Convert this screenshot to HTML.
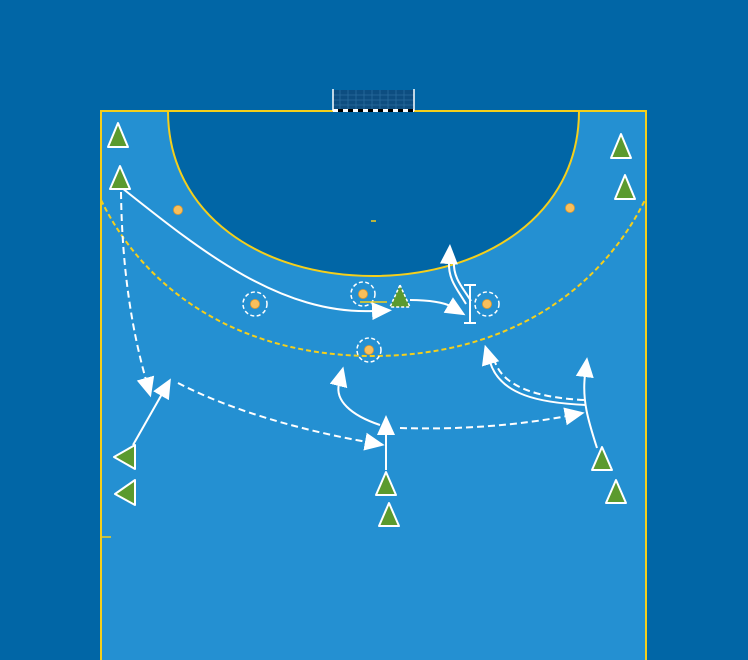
<!DOCTYPE html>
<html><head><meta charset="utf-8"><style>html,body{margin:0;padding:0;background:#0166a6;}svg{display:block}</style></head>
<body>
<svg width="748" height="660" viewBox="0 0 748 660" xmlns="http://www.w3.org/2000/svg">
<defs>
<marker id="m" viewBox="0 0 20 20" refX="2" refY="10" markerWidth="20" markerHeight="20" markerUnits="userSpaceOnUse" orient="auto">
<path d="M0,1 L20,10 L0,19 Z" fill="#fff"/>
</marker>
</defs>
<rect width="748" height="660" fill="#0166a6"/>
<rect x="101" y="111" width="545" height="560" fill="#2490d2" stroke="#f5cf1b" stroke-width="2"/>
<path d="M168,111 C168,215 262,276 373,276 C484,276 579,215 579,111 Z" fill="#0166a6" stroke="#f5cf1b" stroke-width="2"/>
<path d="M101,200 C150,300 250,356 373,356 C496,356 596,300 646,198" fill="none" stroke="#f5cf1b" stroke-width="2" stroke-dasharray="5,3"/>
<line x1="371" y1="221" x2="376" y2="221" stroke="#f5cf1b" stroke-width="1.5"/>
<line x1="101" y1="537" x2="111" y2="537" stroke="#f5cf1b" stroke-width="1.5"/>
<rect x="333" y="90" width="81" height="20" fill="#0d4d80"/>
<g stroke="#2a6c9e" stroke-width="0.8">
<line x1="333" y1="95" x2="414" y2="95"/><line x1="333" y1="100" x2="414" y2="100"/><line x1="333" y1="105" x2="414" y2="105"/>
<line x1="340" y1="90" x2="340" y2="110"/><line x1="348" y1="90" x2="348" y2="110"/><line x1="356" y1="90" x2="356" y2="110"/><line x1="364" y1="90" x2="364" y2="110"/><line x1="372" y1="90" x2="372" y2="110"/><line x1="380" y1="90" x2="380" y2="110"/><line x1="388" y1="90" x2="388" y2="110"/><line x1="396" y1="90" x2="396" y2="110"/><line x1="404" y1="90" x2="404" y2="110"/>
</g>
<line x1="333" y1="89" x2="333" y2="111" stroke="#fff" stroke-width="1.5"/>
<line x1="414" y1="89" x2="414" y2="111" stroke="#fff" stroke-width="1.5"/>
<line x1="333" y1="110.5" x2="414" y2="110.5" stroke="#000" stroke-width="3"/>
<line x1="333" y1="110.5" x2="414" y2="110.5" stroke="#fff" stroke-width="3" stroke-dasharray="5,5"/>
<g fill="#f9bf5c" stroke="#e89a2a" stroke-width="0.8">
<circle cx="178" cy="210" r="4.5"/><circle cx="570" cy="208" r="4.5"/>
<circle cx="255" cy="304" r="4.5"/><circle cx="363" cy="294" r="4.5"/><circle cx="487" cy="304" r="4.5"/><circle cx="369" cy="350" r="4.5"/>
</g>
<g fill="none" stroke="#fff" stroke-width="1.5" stroke-dasharray="4,2.5">
<circle cx="255" cy="304" r="12"/><circle cx="363" cy="294" r="12"/><circle cx="487" cy="304" r="12"/><circle cx="369" cy="350" r="12"/>
</g>
<line x1="360" y1="302" x2="387" y2="302" stroke="#f5cf1b" stroke-width="1.5"/>
<g fill="none" stroke="#fff" stroke-width="2">
<path d="M122,188 C200,250 280,315 374,311" marker-end="url(#m)"/>
<path d="M410,300 C430,300 445,303 450,306" marker-end="url(#m)"/>
<path d="M466,304 C458,290 448,280 449,262" marker-end="url(#m)"/>
<path d="M471,301 C463,288 453,278 454,262"/>
<path d="M133,445 L162,394" marker-end="url(#m)"/>
<path d="M386,470 L386,433" marker-end="url(#m)"/>
<path d="M380,425 C350,415 335,400 339,384" marker-end="url(#m)"/>
<path d="M586,405 C540,403 500,395 490,362" marker-end="url(#m)"/>
<path d="M597,448 C588,420 582,400 585,375" marker-end="url(#m)"/>
</g>
<g fill="none" stroke="#fff" stroke-width="2" stroke-dasharray="7,4">
<path d="M121,192 C122,270 132,330 146,380" marker-end="url(#m)"/>
<path d="M178,383 C230,410 300,430 367,442" marker-end="url(#m)"/>
<path d="M400,428 C460,430 520,425 567,416" marker-end="url(#m)"/>
<path d="M584,400 C545,398 505,390 495,362"/>
</g>
<g stroke="#fff" stroke-width="2"><line x1="470" y1="285" x2="470" y2="323"/><line x1="464" y1="285" x2="476" y2="285"/><line x1="464" y1="323" x2="476" y2="323"/></g>
<g fill="#5b9a2e" stroke="#fff" stroke-width="2" stroke-linejoin="round">
<path d="M118,123 L128,147 L108,147 Z"/>
<path d="M120,166 L130,189 L110,189 Z"/>
<path d="M621,134 L631,158 L611,158 Z"/>
<path d="M625,175 L635,199 L615,199 Z"/>
<path d="M386,472 L396,495 L376,495 Z"/>
<path d="M389,503 L399,526 L379,526 Z"/>
<path d="M602,447 L612,470 L592,470 Z"/>
<path d="M616,480 L626,503 L606,503 Z"/>
<path d="M114,457 L135,445 L135,469 Z"/>
<path d="M115,494 L135,480 L135,505 Z"/>
</g>
<path d="M400,285 L410,307 L390,307 Z" fill="#5b9a2e" stroke="#fff" stroke-width="1.5" stroke-dasharray="3,2"/>
</svg>
</body></html>
